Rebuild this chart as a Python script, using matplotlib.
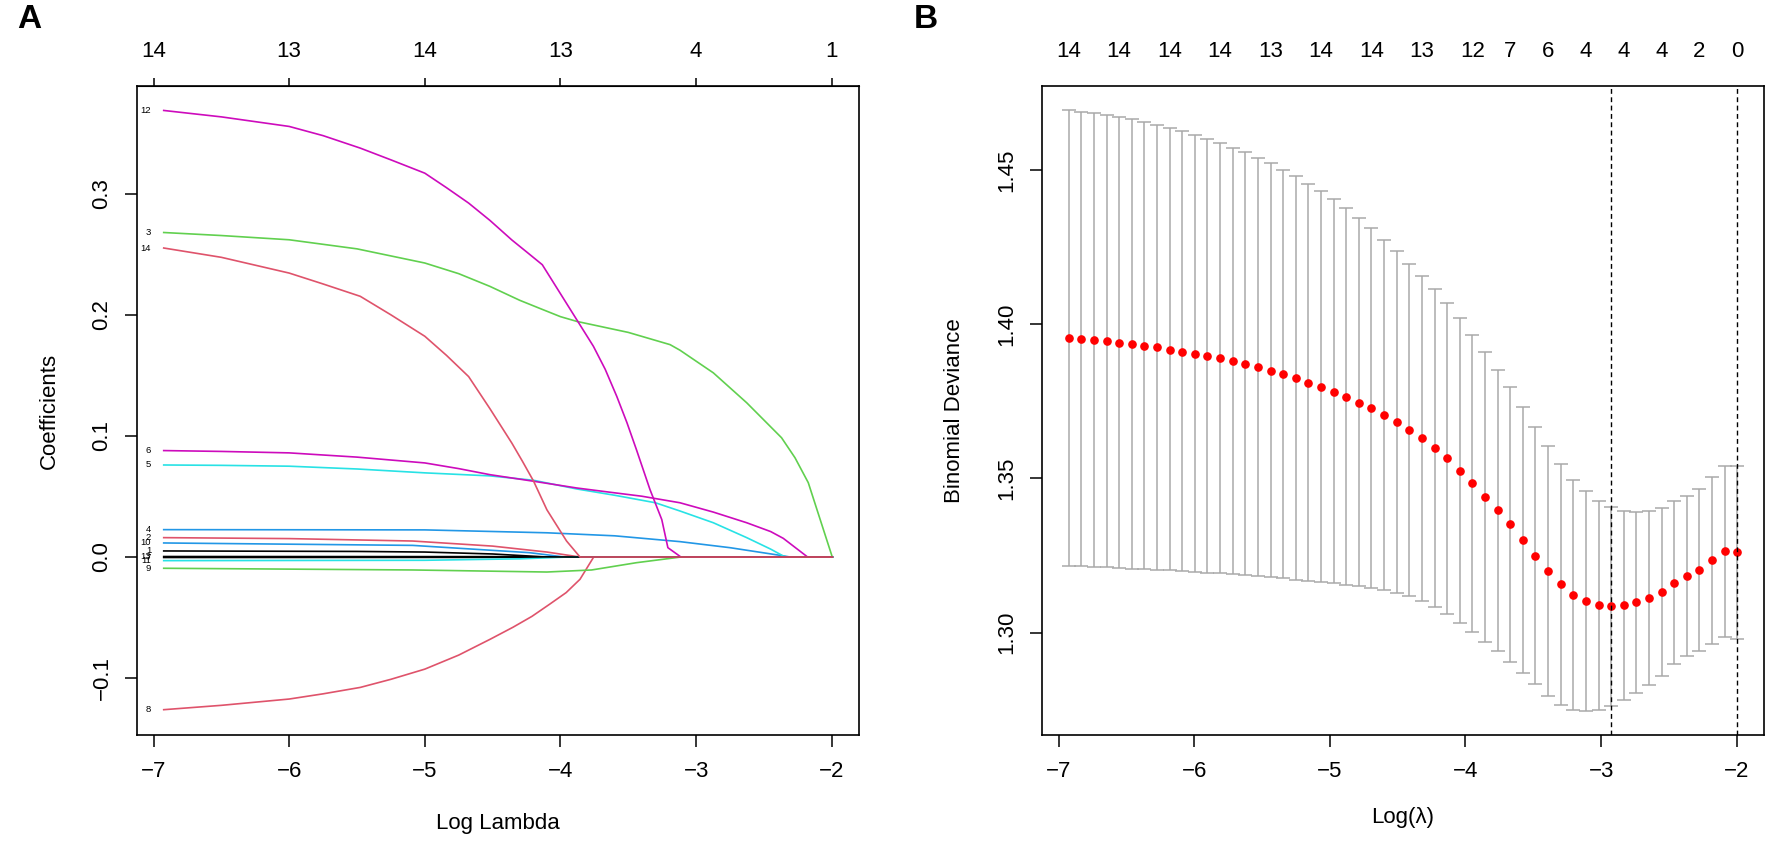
import matplotlib
matplotlib.use("Agg")
import numpy as np
import matplotlib.pyplot as plt
from matplotlib import font_manager

# fonts: the reference text is narrow Arial-like
names = {f.name for f in font_manager.fontManager.ttflist}
NARROW = "Liberation Sans Narrow" if "Liberation Sans Narrow" in names else "Liberation Sans"
WIDE = "Liberation Sans"
plt.rcParams["font.family"] = [NARROW, "DejaVu Sans"]

# ---------------- panel A: coefficient paths ----------------
v1_x = [-6.925, -5.5, -5.0, -4.5, -4.1, -1.996]
v1_y = [0.0050, 0.0046, 0.0041, 0.0025, 0.0, 0.0]
v2_x = [-6.925, -6.0, -5.09, -4.5, -4.1, -3.94, -3.856, -1.996]
v2_y = [0.0160, 0.0152, 0.0132, 0.0090, 0.0041, 0.0014, 0.0, 0.0]
v3_x = [-6.925, -6.5, -6.0, -5.5, -5.0, -4.75, -4.52, -4.3, -4.134, -4.0, -3.88, -3.5,
        -3.192, -3.119, -2.873, -2.627, -2.37, -2.271, -2.173, -1.996]
v3_y = [0.268, 0.2655, 0.262, 0.2545, 0.2428, 0.234, 0.2235, 0.212, 0.2045, 0.1985,
        0.1946, 0.1855, 0.1754, 0.1708, 0.1521, 0.1274, 0.0985, 0.082, 0.0614, 0.0]
v4_x = [-6.925, -5.0, -4.1, -3.6, -3.25, -3.119, -2.75, -2.382, -2.308, -1.996]
v4_y = [0.0226, 0.0224, 0.0200, 0.0175, 0.0140, 0.0127, 0.0077, 0.0014, 0.0, 0.0]
v5_x = [-6.925, -6.5, -6.0, -5.5, -5.0, -4.52, -4.2, -3.88, -3.6, -3.30, -3.119, -2.873,
        -2.627, -2.45, -2.357, -2.333, -1.996]
v5_y = [0.076, 0.0757, 0.075, 0.0727, 0.0695, 0.067, 0.0634, 0.0562, 0.051, 0.0448,
        0.038, 0.0283, 0.016, 0.0065, 0.0008, 0.0, 0.0]
v6_x = [-6.925, -6.5, -6.0, -5.5, -5.0, -4.75, -4.52, -4.2, -3.88, -3.6, -3.40, -3.119,
        -2.873, -2.627, -2.45, -2.357, -2.178, -1.996]
v6_y = [0.0879, 0.0872, 0.086, 0.0825, 0.0777, 0.073, 0.068, 0.0626, 0.057, 0.053,
        0.0502, 0.0448, 0.0371, 0.0283, 0.021, 0.0154, 0.0, 0.0]
v7_x = [-6.925, -4.5, -4.0, -1.996]
v7_y = [-0.0004, -0.0003, 0.0, 0.0]
v8_x = [-6.925, -6.5, -6.0, -5.75, -5.476, -5.25, -5.0, -4.75, -4.518, -4.35, -4.21,
        -4.08, -3.958, -3.856, -3.755, -1.996]
v8_y = [-0.1261, -0.1225, -0.1173, -0.113, -0.1077, -0.101, -0.0926, -0.081, -0.0679,
        -0.058, -0.049, -0.039, -0.0294, -0.0184, 0.0, 0.0]
v9_x = [-6.925, -5.09, -4.10, -3.77, -3.44, -3.112, -1.996]
v9_y = [-0.0093, -0.0107, -0.0124, -0.0107, -0.0047, 0.0, 0.0]
v10_x = [-6.925, -5.09, -4.23, -3.97, -1.996]
v10_y = [0.0116, 0.0096, 0.0036, 0.0, 0.0]
v11_x = [-6.925, -5.0, -4.3, -3.94, -1.996]
v11_y = [-0.0030, -0.0027, -0.0015, 0.0, 0.0]
v12_x = [-6.925, -6.5, -6.0, -5.75, -5.476, -5.25, -5.0, -4.84, -4.677, -4.52, -4.358,
         -4.25, -4.134, -3.757, -3.67, -3.585, -3.51, -3.44, -3.34, -3.253, -3.208,
         -3.112, -1.996]
v12_y = [0.3688, 0.3635, 0.3556, 0.348, 0.3377, 0.328, 0.317, 0.305, 0.2923, 0.278,
         0.2618, 0.252, 0.2414, 0.174, 0.155, 0.1327, 0.111, 0.0887, 0.0557, 0.0309,
         0.0077, 0.0, 0.0]
v13_x = [-6.925, -4.5, -3.9, -1.996]
v13_y = [0.0004, 0.0003, 0.0, 0.0]
v14_x = [-6.925, -6.5, -6.0, -5.75, -5.476, -5.25, -5.0, -4.84, -4.677, -4.52, -4.358,
         -4.28, -4.198, -4.10, -3.955, -3.856, -1.996]
v14_y = [0.2552, 0.2475, 0.2345, 0.2255, 0.2153, 0.200, 0.1823, 0.1665, 0.149, 0.1225,
         0.094, 0.079, 0.0626, 0.039, 0.0132, 0.0, 0.0]

paths = [(v1_x, v1_y), (v2_x, v2_y), (v3_x, v3_y), (v4_x, v4_y), (v5_x, v5_y),
         (v6_x, v6_y), (v7_x, v7_y), (v8_x, v8_y), (v9_x, v9_y), (v10_x, v10_y),
         (v11_x, v11_y), (v12_x, v12_y), (v13_x, v13_y), (v14_x, v14_y)]
top_a_ticks = [-7, -6, -5, -4, -3, -2]
top_a_labels = ["14", "13", "14", "13", "4", "1"]

# R default palette, matplot cycles col = 1:6
palette = ["black", "#DF536B", "#61D04F", "#2297E6", "#28E2E5", "#CD0BBC"]

# ---------------- panel B: cross-validation curve ----------------
log_lambda = [-6.925, -6.832, -6.739, -6.646, -6.553, -6.460, -6.367, -6.274, -6.181,
              -6.088, -5.995, -5.902, -5.809, -5.716, -5.623, -5.530, -5.437, -5.344,
              -5.251, -5.158, -5.065, -4.972, -4.879, -4.786, -4.693, -4.600, -4.507,
              -4.414, -4.321, -4.228, -4.135, -4.042, -3.949, -3.856, -3.763, -3.670,
              -3.577, -3.484, -3.391, -3.298, -3.205, -3.112, -3.019, -2.926, -2.833,
              -2.740, -2.647, -2.554, -2.461, -2.368, -2.275, -2.182, -2.089, -1.996]
cvm = [1.3956, 1.3952, 1.3948, 1.3945, 1.3940, 1.3935, 1.3930, 1.3926, 1.3918, 1.3911,
       1.3905, 1.3898, 1.3891, 1.3881, 1.3871, 1.3861, 1.3850, 1.3838, 1.3826, 1.3811,
       1.3797, 1.3781, 1.3764, 1.3746, 1.3727, 1.3707, 1.3683, 1.3658, 1.3630, 1.3600,
       1.3565, 1.3525, 1.3484, 1.3441, 1.3397, 1.3351, 1.3302, 1.3249, 1.3201, 1.3158,
       1.3123, 1.3102, 1.3090, 1.3087, 1.3089, 1.3099, 1.3113, 1.3132, 1.3162, 1.3184,
       1.3204, 1.3236, 1.3264, 1.3260]
cvup = [1.4695, 1.4689, 1.4684, 1.4678, 1.4672, 1.4665, 1.4656, 1.4648, 1.4637, 1.4626,
        1.4614, 1.4602, 1.4588, 1.4573, 1.4558, 1.4541, 1.4522, 1.4502, 1.4480, 1.4456,
        1.4433, 1.4406, 1.4377, 1.4345, 1.4313, 1.4275, 1.4237, 1.4197, 1.4158, 1.4115,
        1.4070, 1.4019, 1.3966, 1.3911, 1.3853, 1.3796, 1.3733, 1.3667, 1.3606, 1.3547,
        1.3495, 1.3458, 1.3428, 1.3408, 1.3394, 1.3391, 1.3394, 1.3405, 1.3427, 1.3444,
        1.3466, 1.3505, 1.3542, 1.3540]
cvlo = [1.3216, 1.3215, 1.3214, 1.3212, 1.3210, 1.3208, 1.3207, 1.3204, 1.3202, 1.3200,
        1.3197, 1.3195, 1.3192, 1.3189, 1.3186, 1.3183, 1.3179, 1.3176, 1.3172, 1.3168,
        1.3163, 1.3160, 1.3156, 1.3150, 1.3144, 1.3137, 1.3128, 1.3118, 1.3103, 1.3084,
        1.3060, 1.3032, 1.3002, 1.2971, 1.2940, 1.2904, 1.2870, 1.2832, 1.2796, 1.2765,
        1.2748, 1.2746, 1.2750, 1.2762, 1.2782, 1.2805, 1.2830, 1.2859, 1.2897, 1.2924,
        1.2942, 1.2964, 1.2986, 1.2978]
top_b_idx = [0, 4, 8, 12, 16, 20, 24, 28, 32, 35, 38, 41, 44, 47, 50, 53]
top_b_labels = ["14", "14", "14", "14", "13", "14", "14", "13", "12", "7", "6",
                "4", "4", "4", "2", "0"]
log_lambda_min = -2.926
log_lambda_1se = -1.996

W, H = 1772, 841
fig = plt.figure(figsize=(W / 100, H / 100), dpi=100)
ax1 = fig.add_axes([137 / W, 106 / H, 722 / W, 649 / H])
ax2 = fig.add_axes([1042 / W, 106 / H, 722 / W, 649 / H])

FS = 16

def style_frame(ax):
    for s in ax.spines.values():
        s.set_linewidth(1.2)
    ax.tick_params(axis="x", length=8.6, width=1.1, pad=10, labelsize=FS)
    ax.tick_params(axis="y", length=8.6, width=1.1, pad=9, labelsize=FS)
    for lab in ax.get_yticklabels():
        lab.set_rotation(90)
        lab.set_va("center")
        lab.set_family([WIDE, "DejaVu Sans"])

# --- A ---
for k, (xs, ys) in enumerate(paths):
    ax1.plot(xs, ys, color=palette[k % 6], lw=1.2, solid_joinstyle="round")
for k, (xs, ys) in enumerate(paths):
    ax1.annotate(str(k + 1), (xs[0], ys[0]), xytext=(-9, 0), textcoords="offset points",
                 ha="right", va="center", fontsize=6.8)
ax1.set_xlim(-7.122, -1.799)
ax1.set_ylim(-0.147, 0.389)
ax1.set_xticks([-7, -6, -5, -4, -3, -2])
ax1.set_yticks([-0.1, 0.0, 0.1, 0.2, 0.3])
ax1.set_yticklabels([f"{v:.1f}".replace("-", "\u2212") for v in [-0.1, 0.0, 0.1, 0.2, 0.3]])
style_frame(ax1)
sec1 = ax1.secondary_xaxis("top")
sec1.set_xticks(top_a_ticks, labels=top_a_labels)
sec1.tick_params(length=6, width=1.1, pad=11, labelsize=FS)
ax1.set_xlabel("Log Lambda", fontsize=FS)
ax1.xaxis.set_label_coords(0.5, -88 / 649)
ax1.xaxis.label.set_va("center")
ax1.set_ylabel("Coefficients", fontsize=FS, family=[WIDE, "DejaVu Sans"])
ax1.yaxis.set_label_coords(-88 / 722, 0.5)
ax1.yaxis.label.set_va("center")

# --- B ---
cvm_a = np.array(cvm)
ax2.errorbar(log_lambda, cvm, yerr=[cvm_a - np.array(cvlo), np.array(cvup) - cvm_a],
             fmt="none", ecolor="#A9A9A9", elinewidth=1.1, capsize=4.8, capthick=1.1,
             zorder=2)
ax2.plot(log_lambda, cvm, "o", color="red", ms=5.2, mec="red", zorder=3)
for v in [log_lambda_min, log_lambda_1se]:
    ax2.axvline(v, color="black", lw=1.0, ls=(0, (3.5, 2.5)), zorder=4)
ax2.set_xlim(-7.122, -1.799)
ax2.set_ylim(1.2668, 1.4773)
ax2.set_xticks([-7, -6, -5, -4, -3, -2])
ax2.set_yticks([1.30, 1.35, 1.40, 1.45])
ax2.set_yticklabels([f"{v:.2f}" for v in [1.30, 1.35, 1.40, 1.45]])
style_frame(ax2)
sec2 = ax2.secondary_xaxis("top")
sec2.set_xticks([log_lambda[i] for i in top_b_idx], labels=top_b_labels)
sec2.tick_params(length=0, pad=17.5, labelsize=FS)
sec2.spines["top"].set_visible(False)
ax2.set_xlabel("Log(\u03bb)", fontsize=FS)
ax2.xaxis.set_label_coords(0.5, -83 / 649)
ax2.xaxis.label.set_va("center")
ax2.set_ylabel("Binomial Deviance", fontsize=FS, family=[WIDE, "DejaVu Sans"])
ax2.yaxis.set_label_coords(-88 / 722, 0.5)
ax2.yaxis.label.set_va("center")

fig.text(29 / W, 1 - 19 / H, "A", fontsize=24, fontweight="bold", ha="center", va="center")
fig.text(926 / W, 1 - 19 / H, "B", fontsize=24, fontweight="bold", ha="center", va="center")

fig.savefig("out.png", dpi=100)
